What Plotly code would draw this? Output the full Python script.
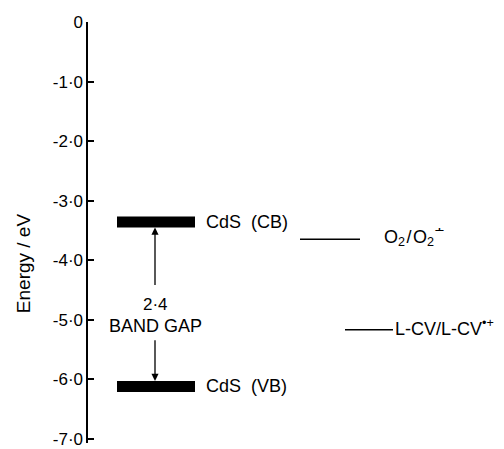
import plotly.graph_objects as go

# ---- data (energies in eV) ----
tick_vals = [0, -1, -2, -3, -4, -5, -6, -7]
tick_text = ["0", "-1·0", "-2·0", "-3·0", "-4·0", "-5·0", "-6·0", "-7·0"]
band_names = ["CdS&#160;&#160;(CB)", "CdS&#160;&#160;(VB)"]
band_energies = [-3.36, -6.12]
band_gap = 2.4
couple_names = ["O<sub>2</sub>&#8202;/&#8202;O<sub>2</sub><sup>∸</sup>", "L-CV/L-CV<sup>•+</sup>"]
couple_energies = [-3.65, -5.17]

FONT = "Liberation Sans"
W, H = 504, 449
L, R, T, B = 87, 0, 22, 6
YMIN = -7.07

fig = go.Figure()

# band edges (thick bars)
for e in band_energies:
    fig.add_trace(go.Scatter(x=[117, 195], y=[e, e], mode="lines",
                             line=dict(color="black", width=11), hoverinfo="skip"))
# band labels
for name, e in zip(band_names, band_energies):
    fig.add_annotation(x=204, y=e, text=name, showarrow=False, xanchor="left",
                       yanchor="middle", font=dict(family=FONT, size=18, color="black"))

# redox couples
couple_x = [(300, 360), (345, 393)]
couple_lx = [382, 393]
for (x0, x1), lx, name, e in zip(couple_x, couple_lx, couple_names, couple_energies):
    fig.add_trace(go.Scatter(x=[x0, x1], y=[e, e], mode="lines",
                             line=dict(color="black", width=1.5), hoverinfo="skip"))
    fig.add_annotation(x=lx, y=e + 0.04, text=name, showarrow=False, xanchor="left",
                       yanchor="middle", font=dict(family=FONT, size=18, color="black"))

# band-gap arrows and text
px_per_ev = (H - T - B) / (0 - YMIN)
half_bar = 5.5 / px_per_ev
cb, vb = band_energies
ax_x = 155
up_tail = -4.44
down_tail = -5.32
fig.add_annotation(x=ax_x, y=cb - half_bar, ax=ax_x, ay=up_tail, axref="x", ayref="y",
                   xref="x", yref="y", showarrow=True, arrowhead=2, arrowsize=1.1,
                   arrowwidth=1.3, arrowcolor="black", text="", standoff=0, startstandoff=0)
fig.add_annotation(x=ax_x, y=vb + half_bar, ax=ax_x, ay=down_tail, axref="x", ayref="y",
                   xref="x", yref="y", showarrow=True, arrowhead=2, arrowsize=1.1,
                   arrowwidth=1.3, arrowcolor="black", text="", standoff=0, startstandoff=0)
fig.add_annotation(x=ax_x, y=-4.74, text=f"{band_gap:.1f}".replace(".", "·"),
                   showarrow=False, xanchor="center", yanchor="middle", borderpad=0,
                   font=dict(family=FONT, size=17, color="black"))
fig.add_annotation(x=ax_x, y=-5.1, text="BAND GAP",
                   showarrow=False, xanchor="center", yanchor="middle", borderpad=0,
                   font=dict(family=FONT, size=18, color="black"))

# axis line
fig.add_shape(type="line", xref="paper", x0=0, x1=0, yref="y", y0=0, y1=YMIN,
              line=dict(color="black", width=2))

# y-axis title
fig.add_annotation(xref="paper", x=(23 - L) / (W - L - R), yref="y", y=-4.05,
                   text="Energy / eV", textangle=-90, showarrow=False,
                   xanchor="center", yanchor="middle",
                   font=dict(family=FONT, size=19, color="black"))

fig.update_layout(
    width=W, height=H, margin=dict(l=L, r=R, t=T, b=B, autoexpand=False),
    plot_bgcolor="white", paper_bgcolor="white", showlegend=False,
    xaxis=dict(range=[L, W], visible=False, fixedrange=True),
    yaxis=dict(range=[YMIN, 0], tickvals=tick_vals, ticktext=tick_text,
               ticks="inside", ticklen=7, tickwidth=1.5, tickcolor="black",
               showgrid=False, zeroline=False, showline=False, automargin=False,
               ticklabelstandoff=3, ticklabeloverflow="allow",
               tickfont=dict(family=FONT, size=17, color="black")),
)

fig.write_html("out.html", config={"displayModeBar": False},
               post_script="document.body.style.margin='0';document.body.style.overflow='hidden';")
